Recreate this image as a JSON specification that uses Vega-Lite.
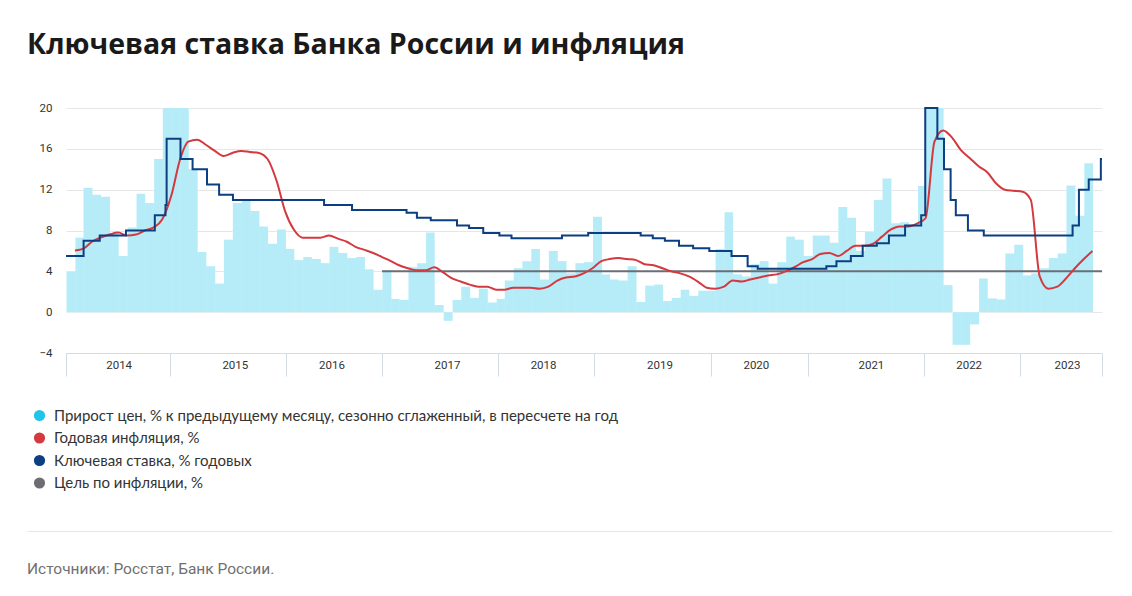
{
  "$schema": "https://vega.github.io/schema/vega-lite/v6.json",
  "padding": {"left": 27, "top": 30, "right": 5, "bottom": 5},
  "title": {"text": "Ключевая ставка Банка России и инфляция", "anchor": "start", "font": "Open Sans", "fontSize": 28.5, "fontWeight": 700, "color": "#1a1a1a", "offset": 43},
  "config": {"view": {"stroke": null}, "font": "Roboto"},
  "spacing": 154,
  "datasets": {
    "monthly": [
      {"month": "2014-01-01", "saar": 4.0, "cpi": 6.05},
      {"month": "2014-02-01", "saar": 7.3, "cpi": 6.2},
      {"month": "2014-03-01", "saar": 12.2, "cpi": 6.9},
      {"month": "2014-04-01", "saar": 11.5, "cpi": 7.3},
      {"month": "2014-05-01", "saar": 11.3, "cpi": 7.6},
      {"month": "2014-06-01", "saar": 7.7, "cpi": 7.8},
      {"month": "2014-07-01", "saar": 5.5, "cpi": 7.5},
      {"month": "2014-08-01", "saar": 8.3, "cpi": 7.6},
      {"month": "2014-09-01", "saar": 11.6, "cpi": 8.0},
      {"month": "2014-10-01", "saar": 10.7, "cpi": 8.3},
      {"month": "2014-11-01", "saar": 15.0, "cpi": 9.1},
      {"month": "2014-12-01", "saar": 20, "cpi": 11.4},
      {"month": "2015-01-01", "saar": 20, "cpi": 15.0},
      {"month": "2015-02-01", "saar": 20, "cpi": 16.7},
      {"month": "2015-03-01", "saar": 14.0, "cpi": 16.9},
      {"month": "2015-04-01", "saar": 5.9, "cpi": 16.4},
      {"month": "2015-05-01", "saar": 4.5, "cpi": 15.8},
      {"month": "2015-06-01", "saar": 2.8, "cpi": 15.3},
      {"month": "2015-07-01", "saar": 7.1, "cpi": 15.6},
      {"month": "2015-08-01", "saar": 10.7, "cpi": 15.8},
      {"month": "2015-09-01", "saar": 10.9, "cpi": 15.7},
      {"month": "2015-10-01", "saar": 9.9, "cpi": 15.6},
      {"month": "2015-11-01", "saar": 8.4, "cpi": 15.0},
      {"month": "2015-12-01", "saar": 6.7, "cpi": 12.9},
      {"month": "2016-01-01", "saar": 8.1, "cpi": 9.8},
      {"month": "2016-02-01", "saar": 6.2, "cpi": 8.1},
      {"month": "2016-03-01", "saar": 5.1, "cpi": 7.3},
      {"month": "2016-04-01", "saar": 5.4, "cpi": 7.3},
      {"month": "2016-05-01", "saar": 5.2, "cpi": 7.3},
      {"month": "2016-06-01", "saar": 4.8, "cpi": 7.5},
      {"month": "2016-07-01", "saar": 6.4, "cpi": 7.2},
      {"month": "2016-08-01", "saar": 5.8, "cpi": 6.9},
      {"month": "2016-09-01", "saar": 5.3, "cpi": 6.4},
      {"month": "2016-10-01", "saar": 5.4, "cpi": 6.1},
      {"month": "2016-11-01", "saar": 4.2, "cpi": 5.8},
      {"month": "2016-12-01", "saar": 2.2, "cpi": 5.4},
      {"month": "2017-01-01", "saar": 4.1, "cpi": 5.0},
      {"month": "2017-02-01", "saar": 1.3, "cpi": 4.6},
      {"month": "2017-03-01", "saar": 1.2, "cpi": 4.3},
      {"month": "2017-04-01", "saar": 4.4, "cpi": 4.1},
      {"month": "2017-05-01", "saar": 4.8, "cpi": 4.1},
      {"month": "2017-06-01", "saar": 7.8, "cpi": 4.4},
      {"month": "2017-07-01", "saar": 0.7, "cpi": 3.9},
      {"month": "2017-08-01", "saar": -0.85, "cpi": 3.3},
      {"month": "2017-09-01", "saar": 1.2, "cpi": 3.0},
      {"month": "2017-10-01", "saar": 2.5, "cpi": 2.7},
      {"month": "2017-11-01", "saar": 1.4, "cpi": 2.5},
      {"month": "2017-12-01", "saar": 2.3, "cpi": 2.5},
      {"month": "2018-01-01", "saar": 0.95, "cpi": 2.2},
      {"month": "2018-02-01", "saar": 1.3, "cpi": 2.2},
      {"month": "2018-03-01", "saar": 3.1, "cpi": 2.4},
      {"month": "2018-04-01", "saar": 4.3, "cpi": 2.4},
      {"month": "2018-05-01", "saar": 5.0, "cpi": 2.4},
      {"month": "2018-06-01", "saar": 6.2, "cpi": 2.3},
      {"month": "2018-07-01", "saar": 3.2, "cpi": 2.5},
      {"month": "2018-08-01", "saar": 6.0, "cpi": 3.1},
      {"month": "2018-09-01", "saar": 5.0, "cpi": 3.4},
      {"month": "2018-10-01", "saar": 3.8, "cpi": 3.5},
      {"month": "2018-11-01", "saar": 4.8, "cpi": 3.8},
      {"month": "2018-12-01", "saar": 4.9, "cpi": 4.3},
      {"month": "2019-01-01", "saar": 9.35, "cpi": 5.0},
      {"month": "2019-02-01", "saar": 3.7, "cpi": 5.2},
      {"month": "2019-03-01", "saar": 3.2, "cpi": 5.3},
      {"month": "2019-04-01", "saar": 3.1, "cpi": 5.2},
      {"month": "2019-05-01", "saar": 4.5, "cpi": 5.1},
      {"month": "2019-06-01", "saar": 1.0, "cpi": 4.7},
      {"month": "2019-07-01", "saar": 2.6, "cpi": 4.6},
      {"month": "2019-08-01", "saar": 2.7, "cpi": 4.3},
      {"month": "2019-09-01", "saar": 1.1, "cpi": 4.0},
      {"month": "2019-10-01", "saar": 1.4, "cpi": 3.8},
      {"month": "2019-11-01", "saar": 2.2, "cpi": 3.5},
      {"month": "2019-12-01", "saar": 1.6, "cpi": 3.0},
      {"month": "2020-01-01", "saar": 2.1, "cpi": 2.4},
      {"month": "2020-02-01", "saar": 2.1, "cpi": 2.3},
      {"month": "2020-03-01", "saar": 6.2, "cpi": 2.5},
      {"month": "2020-04-01", "saar": 9.8, "cpi": 3.1},
      {"month": "2020-05-01", "saar": 3.7, "cpi": 3.0},
      {"month": "2020-06-01", "saar": 3.5, "cpi": 3.2},
      {"month": "2020-07-01", "saar": 4.7, "cpi": 3.4},
      {"month": "2020-08-01", "saar": 5.0, "cpi": 3.6},
      {"month": "2020-09-01", "saar": 2.8, "cpi": 3.7},
      {"month": "2020-10-01", "saar": 4.9, "cpi": 4.0},
      {"month": "2020-11-01", "saar": 7.4, "cpi": 4.4},
      {"month": "2020-12-01", "saar": 7.1, "cpi": 4.9},
      {"month": "2021-01-01", "saar": 5.5, "cpi": 5.2},
      {"month": "2021-02-01", "saar": 7.5, "cpi": 5.7},
      {"month": "2021-03-01", "saar": 7.5, "cpi": 5.8},
      {"month": "2021-04-01", "saar": 6.8, "cpi": 5.5},
      {"month": "2021-05-01", "saar": 10.3, "cpi": 6.0},
      {"month": "2021-06-01", "saar": 9.25, "cpi": 6.5},
      {"month": "2021-07-01", "saar": 6.0, "cpi": 6.5},
      {"month": "2021-08-01", "saar": 7.9, "cpi": 6.7},
      {"month": "2021-09-01", "saar": 11.0, "cpi": 7.4},
      {"month": "2021-10-01", "saar": 13.1, "cpi": 8.1},
      {"month": "2021-11-01", "saar": 8.7, "cpi": 8.4},
      {"month": "2021-12-01", "saar": 8.8, "cpi": 8.4},
      {"month": "2022-01-01", "saar": 8.6, "cpi": 8.7},
      {"month": "2022-02-01", "saar": 12.35, "cpi": 9.2},
      {"month": "2022-03-01", "saar": 20, "cpi": 16.7},
      {"month": "2022-04-01", "saar": 20, "cpi": 17.8},
      {"month": "2022-05-01", "saar": 2.65, "cpi": 17.1},
      {"month": "2022-06-01", "saar": -3.2, "cpi": 15.9},
      {"month": "2022-07-01", "saar": -3.2, "cpi": 15.1},
      {"month": "2022-08-01", "saar": -1.2, "cpi": 14.3},
      {"month": "2022-09-01", "saar": 3.3, "cpi": 13.7},
      {"month": "2022-10-01", "saar": 1.35, "cpi": 12.6},
      {"month": "2022-11-01", "saar": 1.25, "cpi": 12.0},
      {"month": "2022-12-01", "saar": 5.75, "cpi": 11.9},
      {"month": "2023-01-01", "saar": 6.6, "cpi": 11.8},
      {"month": "2023-02-01", "saar": 3.6, "cpi": 11.0},
      {"month": "2023-03-01", "saar": 3.8, "cpi": 3.5},
      {"month": "2023-04-01", "saar": 4.3, "cpi": 2.3},
      {"month": "2023-05-01", "saar": 5.3, "cpi": 2.5},
      {"month": "2023-06-01", "saar": 5.75, "cpi": 3.3},
      {"month": "2023-07-01", "saar": 12.4, "cpi": 4.3},
      {"month": "2023-08-01", "saar": 9.45, "cpi": 5.2},
      {"month": "2023-09-01", "saar": 14.6, "cpi": 6.0}
    ],
    "keyrate": [
      {"date": "2014-01-01", "rate": 5.5},
      {"date": "2014-03-03", "rate": 7},
      {"date": "2014-04-28", "rate": 7.5},
      {"date": "2014-07-28", "rate": 8},
      {"date": "2014-11-05", "rate": 9.5},
      {"date": "2014-12-12", "rate": 10.5},
      {"date": "2014-12-16", "rate": 17},
      {"date": "2015-02-02", "rate": 15},
      {"date": "2015-03-16", "rate": 14},
      {"date": "2015-05-05", "rate": 12.5},
      {"date": "2015-06-16", "rate": 11.5},
      {"date": "2015-08-03", "rate": 11},
      {"date": "2016-06-14", "rate": 10.5},
      {"date": "2016-09-19", "rate": 10},
      {"date": "2017-03-27", "rate": 9.75},
      {"date": "2017-05-02", "rate": 9.25},
      {"date": "2017-06-19", "rate": 9},
      {"date": "2017-09-18", "rate": 8.5},
      {"date": "2017-10-30", "rate": 8.25},
      {"date": "2017-12-18", "rate": 7.75},
      {"date": "2018-02-12", "rate": 7.5},
      {"date": "2018-03-26", "rate": 7.25},
      {"date": "2018-09-17", "rate": 7.5},
      {"date": "2018-12-17", "rate": 7.75},
      {"date": "2019-06-17", "rate": 7.5},
      {"date": "2019-07-29", "rate": 7.25},
      {"date": "2019-09-09", "rate": 7},
      {"date": "2019-10-28", "rate": 6.5},
      {"date": "2019-12-16", "rate": 6.25},
      {"date": "2020-02-10", "rate": 6},
      {"date": "2020-04-27", "rate": 5.5},
      {"date": "2020-06-22", "rate": 4.5},
      {"date": "2020-07-27", "rate": 4.25},
      {"date": "2021-03-22", "rate": 4.5},
      {"date": "2021-04-26", "rate": 5},
      {"date": "2021-06-15", "rate": 5.5},
      {"date": "2021-07-26", "rate": 6.5},
      {"date": "2021-09-13", "rate": 6.75},
      {"date": "2021-10-25", "rate": 7.5},
      {"date": "2021-12-20", "rate": 8.5},
      {"date": "2022-02-14", "rate": 9.5},
      {"date": "2022-02-28", "rate": 20},
      {"date": "2022-04-11", "rate": 17},
      {"date": "2022-05-04", "rate": 14},
      {"date": "2022-05-27", "rate": 11},
      {"date": "2022-06-14", "rate": 9.5},
      {"date": "2022-07-26", "rate": 8},
      {"date": "2022-09-19", "rate": 7.5},
      {"date": "2023-07-24", "rate": 8.5},
      {"date": "2023-08-15", "rate": 12},
      {"date": "2023-09-18", "rate": 13},
      {"date": "2023-10-30", "rate": 15},
      {"date": "2023-11-03", "rate": 15}
    ],
    "target": [
      {"date": "2017-01-01", "target": 4},
      {"date": "2023-11-03", "target": 4}
    ],
    "footer": [
      {"source": "Источники: Росстат, Банк России."}
    ]
  },
  "vconcat": [
    {
      "width": 1085,
      "height": 245,
      "layer": [
        {
          "data": {"name": "monthly"},
          "mark": {"type": "bar", "clip": true, "binSpacing": 0, "color": "#ffffff", "stroke": "#ffffff", "strokeWidth": 0.6},
          "encoding": {
            "x": {
              "field": "month", "timeUnit": "yearmonth", "type": "temporal",
              "scale": {"domain": ["2014-01-01", "2023-11-03"], "range": [39, 1075]},
              "axis": {
                "title": null, "grid": false,
                "values": [
                  {"year": 2014, "month": 1, "date": 1},
                  {"year": 2014, "month": 7, "date": 2, "hours": 12},
                  {"year": 2014, "month": 12, "date": 27},
                  {"year": 2015, "month": 8, "date": 9, "hours": 12},
                  {"year": 2016, "month": 2, "date": 2},
                  {"year": 2016, "month": 7, "date": 9, "hours": 12},
                  {"year": 2017, "month": 1, "date": 1},
                  {"year": 2017, "month": 8, "date": 14, "hours": 12},
                  {"year": 2018, "month": 2, "date": 7},
                  {"year": 2018, "month": 7, "date": 13, "hours": 12},
                  {"year": 2019, "month": 1, "date": 6},
                  {"year": 2019, "month": 8, "date": 21, "hours": 12},
                  {"year": 2020, "month": 2, "date": 16},
                  {"year": 2020, "month": 7, "date": 20, "hours": 12},
                  {"year": 2021, "month": 1, "date": 17},
                  {"year": 2021, "month": 8, "date": 23, "hours": 12},
                  {"year": 2022, "month": 2, "date": 23},
                  {"year": 2022, "month": 7, "date": 28, "hours": 12},
                  {"year": 2023, "month": 1, "date": 22},
                  {"year": 2023, "month": 7, "date": 4, "hours": 12},
                  {"year": 2023, "month": 11, "date": 3}
                ],
                "labelExpr": "hours(datum.value) === 12 ? timeFormat(datum.value, '%Y') : ''",
                "labelOverlap": false, "labelFlush": false, "labelBound": false,
                "domainColor": "#d3dbe5", "domainWidth": 1,
                "tickColor": "#d3dbe5", "tickSize": 23, "tickWidth": 1,
                "tickOpacity": {"condition": {"test": "hours(datum.value) === 12", "value": 0}, "value": 1},
                "labelPadding": -17, "labelFontSize": 11.5, "labelColor": "#333333", "labelFont": "Roboto"
              }
            },
            "y": {
              "field": "saar", "type": "quantitative",
              "scale": {"domain": [-4, 20], "nice": false, "zero": false},
              "axis": {
                "title": null, "values": [-4, 0, 4, 8, 12, 16, 20], "offset": -39,
                "domain": false, "ticks": false, "labelPadding": 14,
                "labelFontSize": 11.5, "labelColor": "#333333", "labelFont": "Roboto",
                "gridColor": "#e6e6e6", "gridWidth": 1
              }
            }
          }
        },
        {
          "data": {"name": "monthly"},
          "mark": {"type": "bar", "clip": true, "binSpacing": 0, "opacity": 0.33},
          "encoding": {
            "x": {"field": "month", "timeUnit": "yearmonth", "type": "temporal"},
            "y": {"field": "saar", "type": "quantitative"},
            "color": {
              "datum": "Прирост цен, % к предыдущему месяцу, сезонно сглаженный, в пересчете на год",
              "type": "nominal",
              "scale": {
                "domain": [
                  "Прирост цен, % к предыдущему месяцу, сезонно сглаженный, в пересчете на год",
                  "Годовая инфляция, %",
                  "Ключевая ставка, % годовых",
                  "Цель по инфляции, %"
                ],
                "range": ["#1fc5ea", "#d3393f", "#0c3f82", "#6d6e74"]
              },
              "legend": {
                "orient": "none", "legendX": 5, "legendY": 300, "title": null,
                "direction": "vertical", "symbolType": "circle", "symbolSize": 125,
                "symbolOpacity": 1, "symbolStrokeWidth": 0,
                "labelFontSize": 15, "labelFont": "Lato", "labelColor": "#333333",
                "labelOffset": 7, "rowPadding": 6.5, "labelLimit": 900, "padding": 0
              }
            }
          }
        },
        {
          "data": {"name": "target"},
          "mark": {"type": "line", "strokeWidth": 2},
          "encoding": {
            "x": {"field": "date", "type": "temporal"},
            "y": {"field": "target", "type": "quantitative"},
            "color": {"datum": "Цель по инфляции, %", "type": "nominal"}
          }
        },
        {
          "data": {"name": "monthly"},
          "mark": {"type": "line", "strokeWidth": 2, "interpolate": "monotone"},
          "encoding": {
            "x": {"field": "month", "timeUnit": "yearmonth", "type": "temporal", "bandPosition": 1},
            "y": {"field": "cpi", "type": "quantitative"},
            "color": {"datum": "Годовая инфляция, %", "type": "nominal"}
          }
        },
        {
          "data": {"name": "keyrate"},
          "mark": {"type": "line", "strokeWidth": 2, "interpolate": "step-after"},
          "encoding": {
            "x": {"field": "date", "type": "temporal"},
            "y": {"field": "rate", "type": "quantitative"},
            "color": {"datum": "Ключевая ставка, % годовых", "type": "nominal"}
          }
        }
      ]
    },
    {
      "width": 1085,
      "height": 40,
      "data": {"name": "footer"},
      "mark": {"type": "text", "align": "left", "baseline": "middle", "fontSize": 15.5, "font": "Roboto", "color": "#707070", "dy": 18},
      "encoding": {
        "x": {
          "field": "source", "type": "nominal", "bandPosition": 0,
          "scale": {"type": "band", "paddingInner": 0, "paddingOuter": 0},
          "axis": {"orient": "top", "labels": false, "ticks": false, "title": null, "domainColor": "#e6e6e6", "domainWidth": 1}
        },
        "text": {"field": "source"}
      }
    }
  ]
}
